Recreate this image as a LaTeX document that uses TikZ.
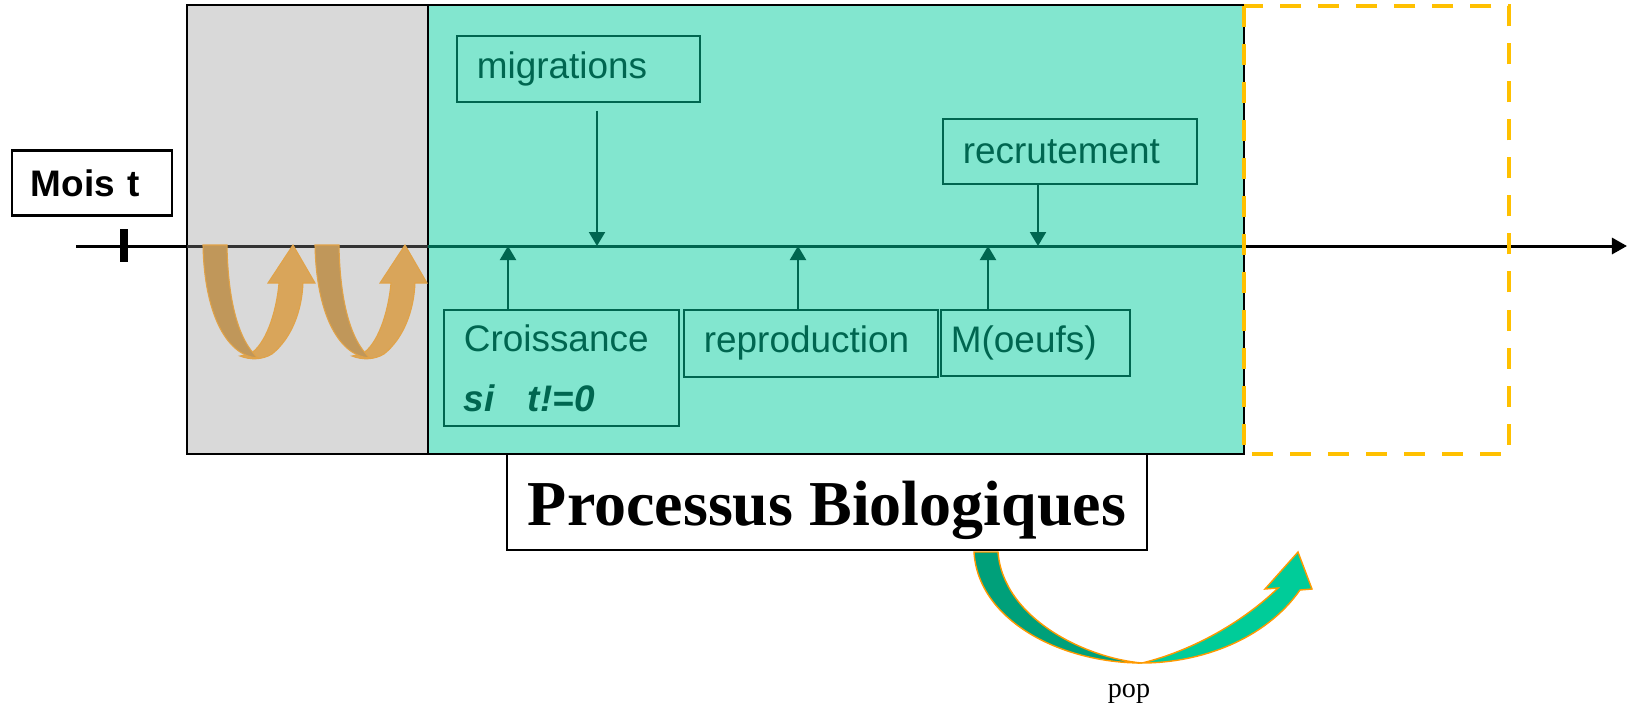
\documentclass[tikz,border=0pt]{standalone}
\usepackage{fontspec}
\setmainfont{Liberation Serif}
\setsansfont{Liberation Sans}
\usetikzlibrary{arrows.meta}

\definecolor{tealbg}{RGB}{130,230,207}
\definecolor{dkgreen}{RGB}{0,102,80}
\definecolor{grayb}{RGB}{217,217,217}
\definecolor{yel}{RGB}{255,192,0}
\definecolor{orlight}{RGB}{217,165,90}
\definecolor{ordark}{RGB}{192,151,90}
\definecolor{grdark}{RGB}{0,160,122}
\definecolor{grlight}{RGB}{0,204,153}
\definecolor{orline}{RGB}{255,153,0}

\begin{document}
\begin{tikzpicture}[x=0.01cm, y=-0.01cm,
    proc/.style={draw=dkgreen, line width=0.5pt, text=dkgreen, anchor=north west, align=left,
      inner xsep=0.2cm, font=\sffamily\fontsize{10.5}{12}\selectfont},
    sarr/.style={draw=dkgreen, line width=0.6pt, -{Triangle[length=0.14cm, width=0.16cm]}}]
  \useasboundingbox (0,0) rectangle (1632,711);
  % fonds
  \filldraw[fill=grayb, line width=0.6pt] (187,5) rectangle (428,454);
  \filldraw[fill=tealbg, line width=0.6pt] (428,5) rectangle (1244,454);
  % axe du temps
  \coordinate (a0) at (76,246);
  \coordinate (a1) at (1627,246);
  \draw[line width=0.85pt, -{Triangle[length=0.15cm, width=0.16cm]}] (a0) -- (a1);
  \draw[line width=0.85pt, gray!40!black] (187,246) -- (428,246);
  \draw[line width=0.85pt, dkgreen] (428,246) -- (1244,246);
  \draw[line width=0.08cm] (124,229) -- (124,262);
  \draw[yel, line width=1.4pt, dash pattern=on 0.21cm off 0.17cm] (1244,6) rectangle (1509,454);

  \node[draw, line width=0.6pt, minimum width=1.6cm, minimum height=0.65cm, text width=1.22cm,
    inner xsep=0.19cm, align=left, font=\sffamily\bfseries\fontsize{10.5}{12}\selectfont] (mois) at (92,183) {Mois t};

  % processus
  \node[proc, minimum width=2.43cm, minimum height=0.66cm, text width=2.03cm] (mig) at (456,35) {migrations};
  \node[proc, minimum width=2.54cm, minimum height=0.65cm, text width=2.14cm] (rec) at (942,118) {recrutement};
  \node[proc, minimum width=2.35cm, minimum height=1.16cm, text width=1.95cm,
    font=\sffamily\fontsize{10.5}{17}\selectfont] (croi) at (443,309) {Croissance\\\textbf{\textit{si\hspace{0.9em}t!=0}}};
  \node[proc, minimum width=2.54cm, minimum height=0.67cm, text width=2.14cm] (repro) at (683,309) {reproduction};
  \node[proc, minimum width=1.89cm, minimum height=0.66cm, text width=1.69cm, inner xsep=0.1cm] (oeuf) at (940,309) {M(oeufs)};

  \coordinate (m1) at (597,246);
  \coordinate (r1) at (1038,246);
  \coordinate (c1) at (508,246);
  \coordinate (p1) at (798,246);
  \coordinate (o1) at (988,246);
  \draw[sarr, shorten <=0.08cm] (mig.south -| m1) -- (m1);
  \draw[sarr] (rec.south -| r1) -- (r1);
  \draw[sarr] (croi.north -| c1) -- (c1);
  \draw[sarr] (repro.north -| p1) -- (p1);
  \draw[sarr] (oeuf.north -| o1) -- (o1);

  % boucles
  \foreach \dx in {0,112} {
    \begin{scope}[shift={(\dx,0)}]
      \filldraw[fill=orlight, draw=orlight!80!orline, line width=0.3pt]
        (240,356) .. controls (250,360) and (262,360) .. (272,354)
        .. controls (292,338) and (302,310) .. (303,283) -- (315,283) -- (293,245) -- (268,283) -- (279,283)
        .. controls (276,315) and (265,345) .. (250,354) -- cycle;
      \filldraw[fill=ordark, draw=orlight!80!orline, line width=0.3pt]
        (203,245) -- (227,245) .. controls (228,300) and (238,340) .. (258,358)
        .. controls (225,356) and (204,310) .. (203,245) -- cycle;
    \end{scope}
  }

  \node[draw, fill=white, line width=0.6pt, minimum width=6.4cm, minimum height=0.96cm,
    text height=0.46cm, text depth=0cm,
    font=\bfseries\fontsize{18.2}{20}\selectfont] (bio) at (827,502) {Processus Biologiques};

  % vers le mois suivant
  \filldraw[fill=grlight, draw=orline, line width=0.4pt]
    (1142,663) .. controls (1200,663) and (1265,640) .. (1300,590) -- (1312,589) -- (1298,552) -- (1265,589) -- (1278,588)
    .. controls (1245,620) and (1195,650) .. (1142,663) -- cycle;
  \filldraw[fill=grdark, draw=orline, line width=0.4pt]
    (974,552) .. controls (978,620) and (1060,663) .. (1142,663)
    .. controls (1085,658) and (1003,618) .. (998,552) -- cycle;
  \node[anchor=base, inner sep=0pt, font=\fontsize{8}{10}\selectfont] (pop) at (1129,697) {pop};
\end{tikzpicture}
\end{document}
